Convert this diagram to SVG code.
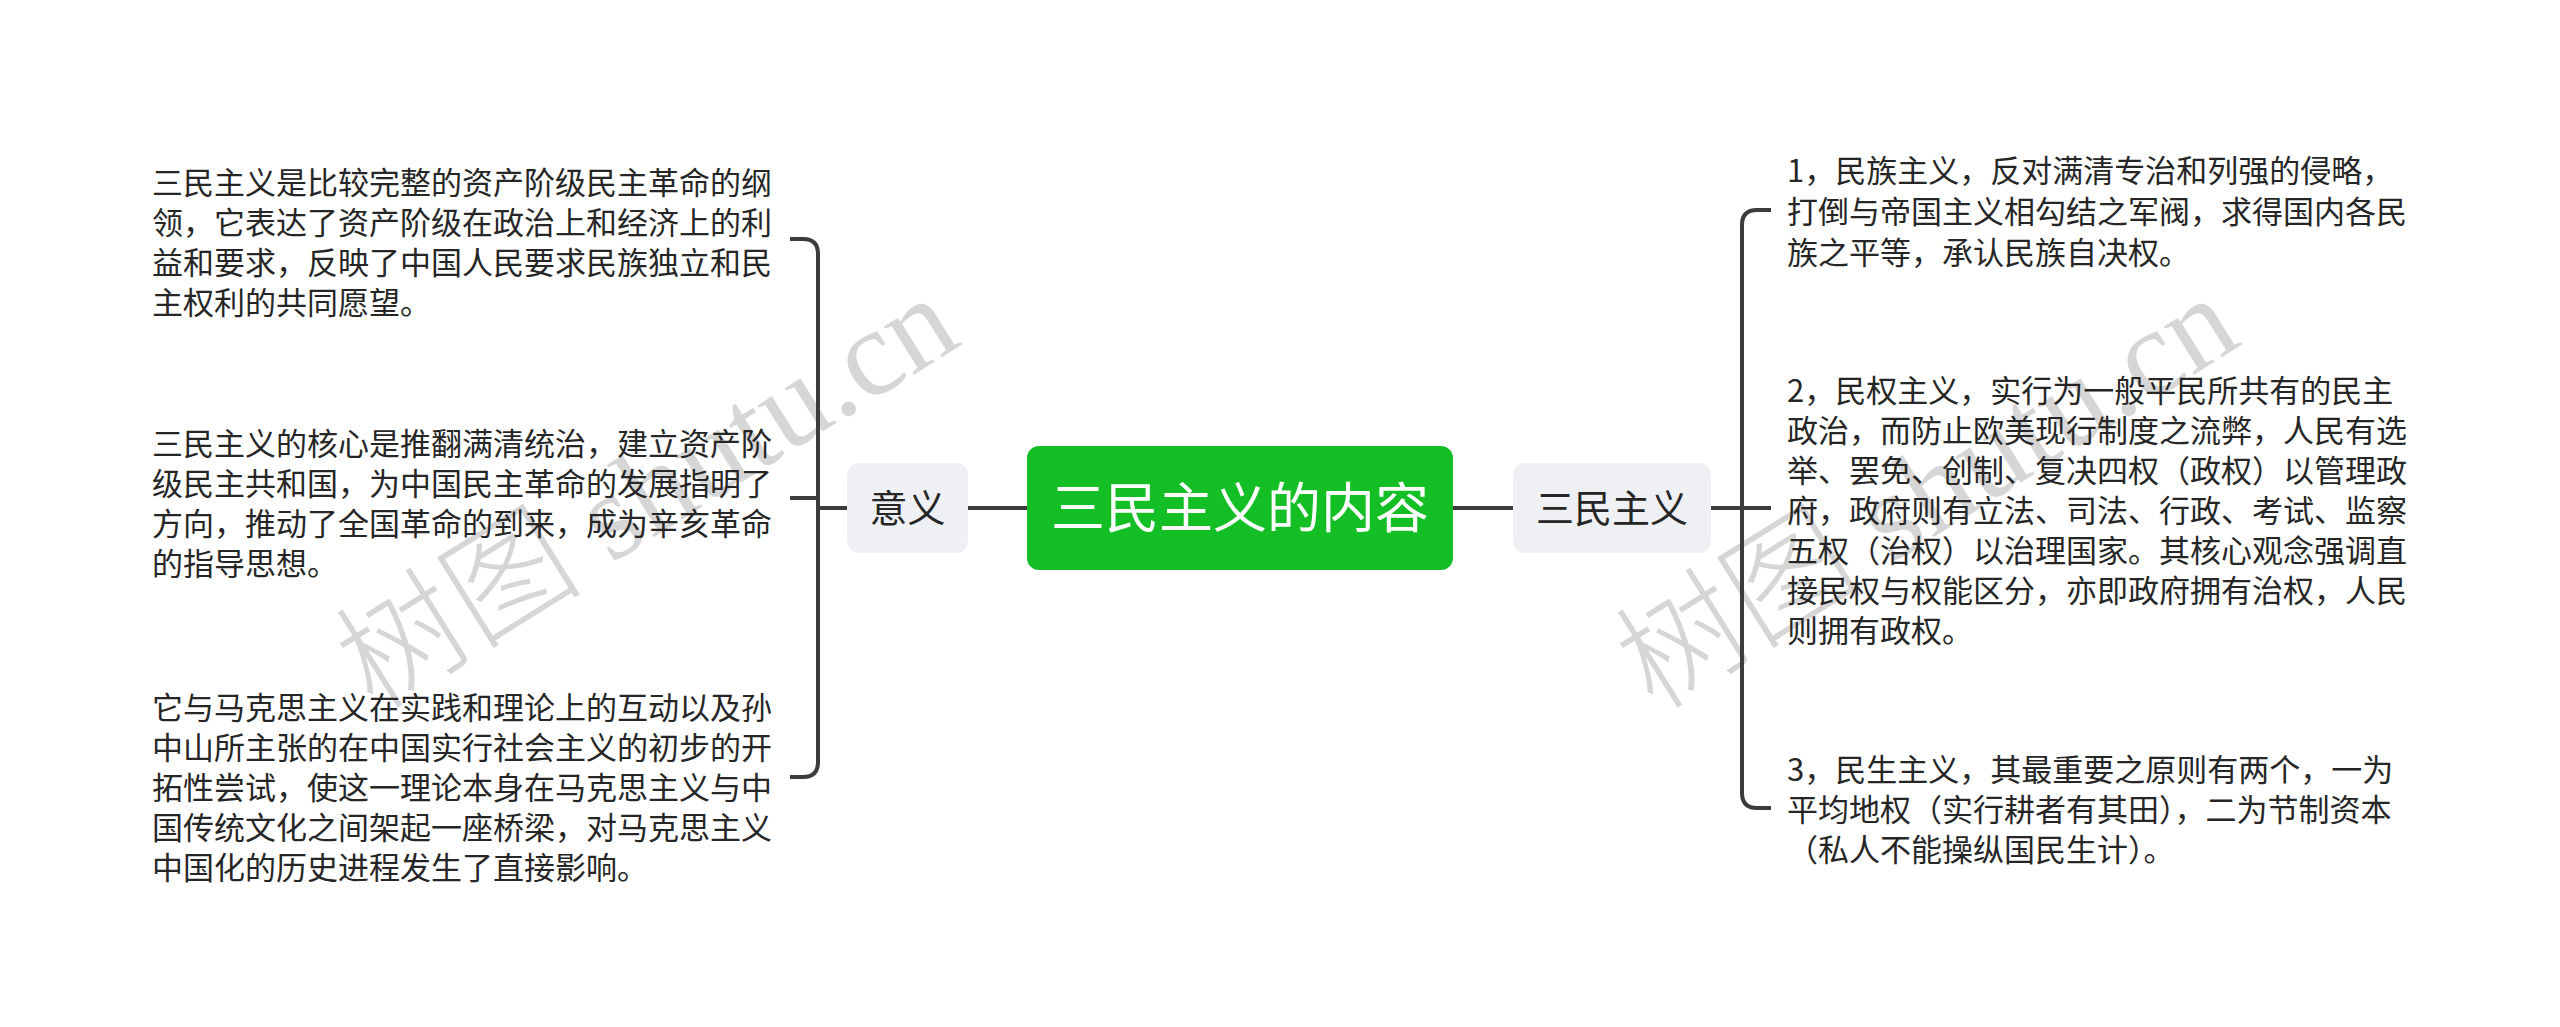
<svg xmlns="http://www.w3.org/2000/svg" width="2560" height="1027" viewBox="0 0 2560 1027">
<style>
.t{font-family:"Noto Sans CJK SC","Noto Sans",sans-serif;font-size:31px;fill:#262626}
.n{font-family:"Noto Sans CJK SC","Noto Sans",sans-serif;font-size:38px;fill:#262626;text-anchor:middle}
.c{font-family:"Noto Sans CJK SC","Noto Sans",sans-serif;font-size:54px;fill:#ffffff;text-anchor:middle}
.sub{fill:#eef0f3}
.ln{fill:none;stroke:#3c3c3c;stroke-width:4}
.wm{font-family:"Liberation Serif","Noto Sans CJK SC",serif;font-size:124px;font-weight:300;fill:#000;fill-opacity:0.16}
</style>
<rect width="2560" height="1027" fill="#ffffff"/>
<g id="watermarks">
<text class="wm" transform="translate(374,712) rotate(-32)">树图 shutu.cn</text>
<text class="wm" transform="translate(1654,712) rotate(-32)">树图 shutu.cn</text>
</g>
<g id="connectors">
<path class="ln" d="M968 508H1027"/>
<path class="ln" d="M818 508H847"/>
<path class="ln" d="M790 239H803Q818 239 818 254V762Q818 777 803 777H790"/>
<path class="ln" d="M790 498H818"/>
<path class="ln" d="M1453 508H1513"/>
<path class="ln" d="M1711 508H1771"/>
<path class="ln" d="M1771 210H1757Q1742 210 1742 225V793Q1742 808 1757 808H1771"/>
</g>
<g id="central">
<rect x="1027" y="446" width="426" height="124" rx="12" fill="#13bf24"/>
<text class="c" x="1240" y="528">三民主义的内容</text>
</g>
<g id="yiyi">
<rect class="sub" x="847" y="463" width="121" height="90" rx="12"/>
<text class="n" x="907.5" y="522">意义</text>
</g>
<g id="sanmin">
<rect class="sub" x="1513" y="463" width="198" height="90" rx="12"/>
<text class="n" x="1612" y="522">三民主义</text>
</g>
<g id="left1">
<text class="t" x="152" y="194">三民主义是比较完整的资产阶级民主革命的纲</text>
<text class="t" x="152" y="234">领，它表达了资产阶级在政治上和经济上的利</text>
<text class="t" x="152" y="274">益和要求，反映了中国人民要求民族独立和民</text>
<text class="t" x="152" y="314">主权利的共同愿望。</text>
</g>
<g id="left2">
<text class="t" x="152" y="455">三民主义的核心是推翻满清统治，建立资产阶</text>
<text class="t" x="152" y="495">级民主共和国，为中国民主革命的发展指明了</text>
<text class="t" x="152" y="535">方向，推动了全国革命的到来，成为辛亥革命</text>
<text class="t" x="152" y="575">的指导思想。</text>
</g>
<g id="left3">
<text class="t" x="152" y="719">它与马克思主义在实践和理论上的互动以及孙</text>
<text class="t" x="152" y="759">中山所主张的在中国实行社会主义的初步的开</text>
<text class="t" x="152" y="799">拓性尝试，使这一理论本身在马克思主义与中</text>
<text class="t" x="152" y="839">国传统文化之间架起一座桥梁，对马克思主义</text>
<text class="t" x="152" y="879">中国化的历史进程发生了直接影响。</text>
</g>
<g id="right1">
<text class="t" x="1787" y="182">1，民族主义，反对满清专治和列强的侵略，</text>
<text class="t" x="1787" y="223">打倒与帝国主义相勾结之军阀，求得国内各民</text>
<text class="t" x="1787" y="264">族之平等，承认民族自决权。</text>
</g>
<g id="right2">
<text class="t" x="1787" y="402">2，民权主义，实行为一般平民所共有的民主</text>
<text class="t" x="1787" y="442">政治，而防止欧美现行制度之流弊，人民有选</text>
<text class="t" x="1787" y="482">举、罢免、创制、复决四权（政权）以管理政</text>
<text class="t" x="1787" y="522">府，政府则有立法、司法、行政、考试、监察</text>
<text class="t" x="1787" y="562">五权（治权）以治理国家。其核心观念强调直</text>
<text class="t" x="1787" y="602">接民权与权能区分，亦即政府拥有治权，人民</text>
<text class="t" x="1787" y="642">则拥有政权。</text>
</g>
<g id="right3">
<text class="t" x="1787" y="781">3，民生主义，其最重要之原则有两个，一为</text>
<text class="t" x="1787" y="821">平均地权（实行耕者有其田），二为节制资本</text>
<text class="t" x="1787" y="861">（私人不能操纵国民生计）。</text>
</g>
</svg>
